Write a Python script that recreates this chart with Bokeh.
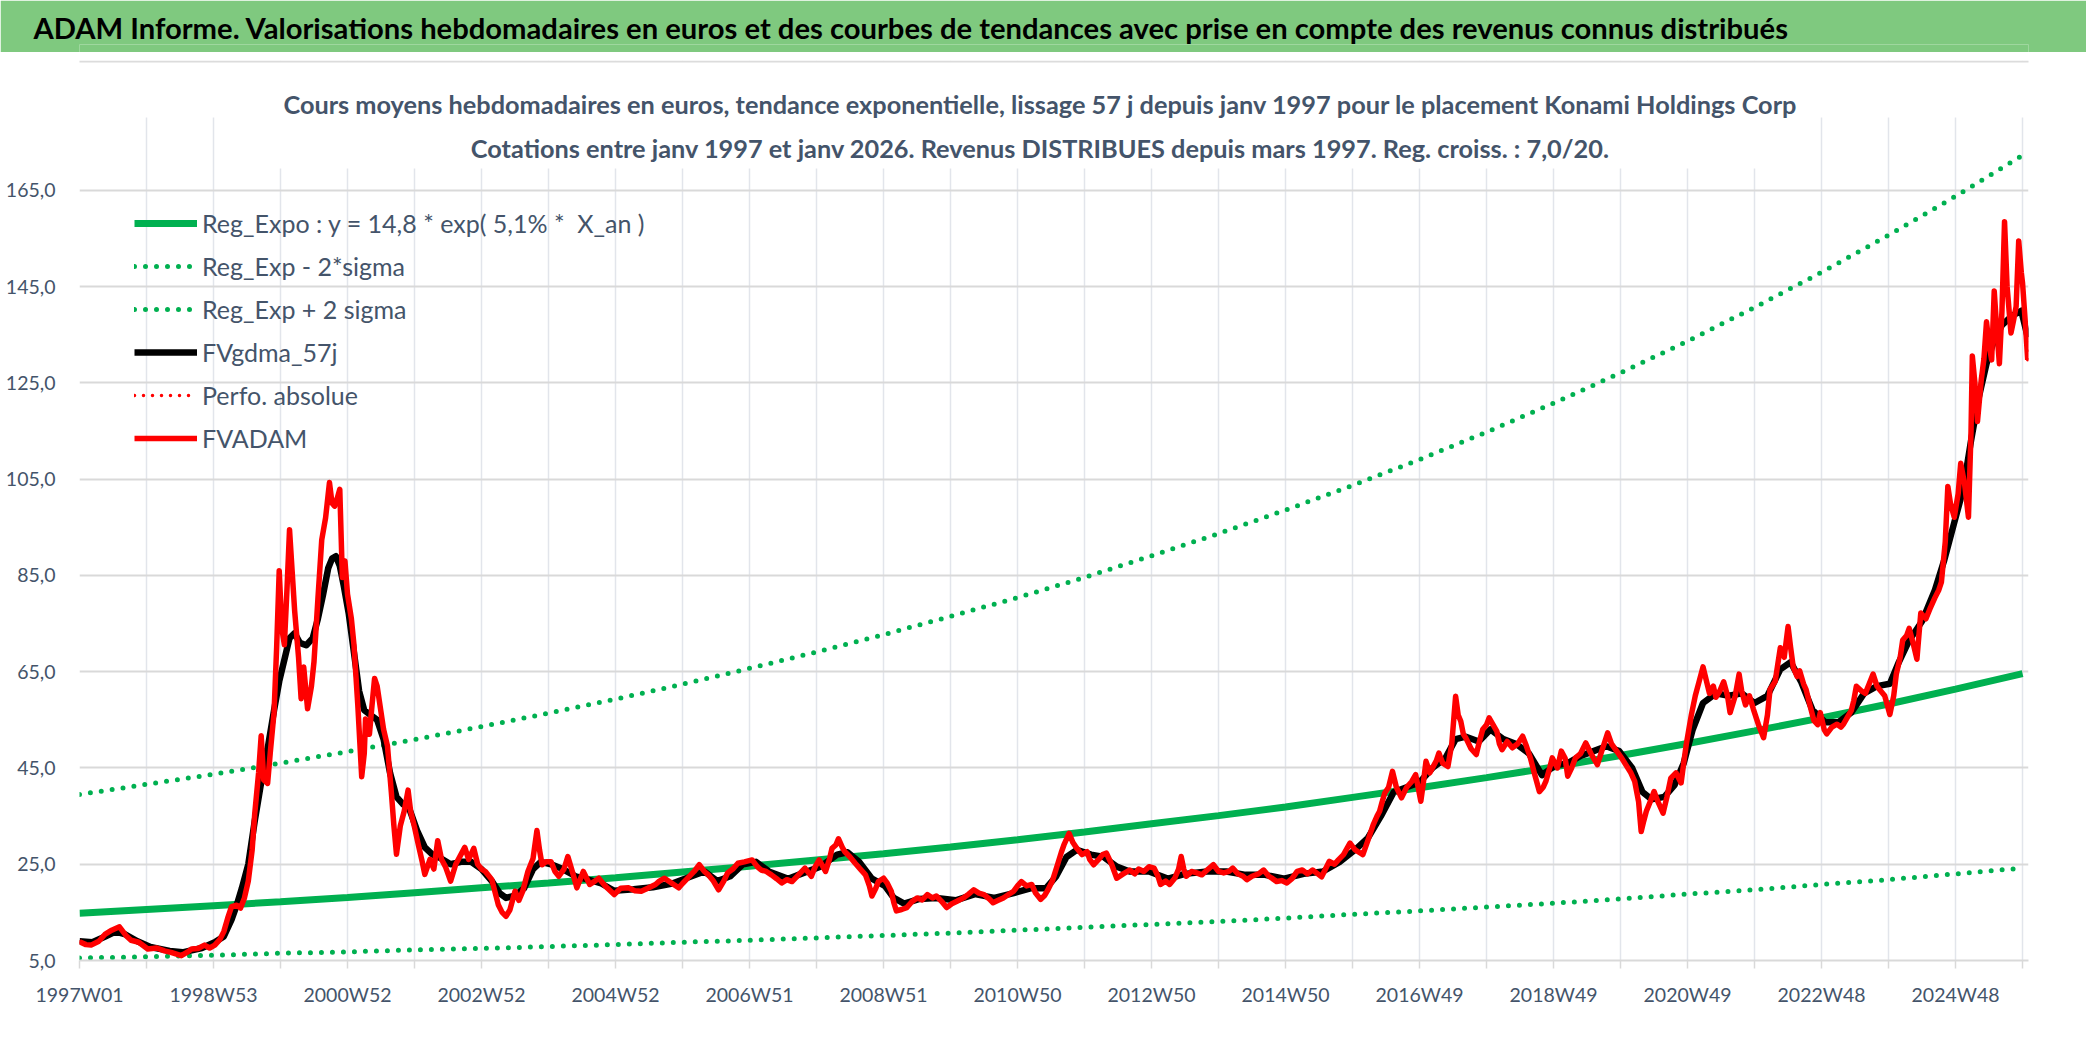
from bokeh.plotting import figure
from bokeh.models import (FixedTicker, Label, BoxAnnotation, Legend, LegendItem, Range1d)
from bokeh.layouts import column
from bokeh.embed import file_html
from bokeh.resources import INLINE

FONT = "Lato"
TXT = "#44546A"

TITLE = ("ADAM Informe. Valorisations hebdomadaires en euros et des courbes de tendances "
         "avec prise en compte des revenus connus distribués")
SUB1 = ("Cours moyens hebdomadaires en euros, tendance exponentielle, lissage 57 j depuis "
        "janv 1997 pour le placement Konami Holdings Corp")
SUB2 = "Cotations entre janv 1997 et janv 2026. Revenus DISTRIBUES depuis mars 1997. Reg. croiss. : 7,0/20."

# ---- category axis (weekly index) ----
x_labels = ["1997W01", "1998W53", "2000W52", "2002W52", "2004W52", "2006W51", "2008W51",
            "2010W50", "2012W50", "2014W50", "2016W49", "2018W49", "2020W49", "2022W48", "2024W48"]
x_label_wk = [0, 104, 208, 312, 416, 520, 624, 728, 832, 936, 1040, 1144, 1248, 1352, 1456]
tick_wk = [0, 52, 104, 156, 208, 260, 312, 364, 416, 468, 520, 572, 624, 676, 728, 780, 832,
           884, 936, 988, 1040, 1092, 1144, 1196, 1248, 1300, 1352, 1404, 1456, 1508]
n_weeks = 1513

y_ticks = [5, 25, 45, 65, 85, 105, 125, 145, 165]
y_labels = ["5,0", "25,0", "45,0", "65,0", "85,0", "105,0", "125,0", "145,0", "165,0"]

# ---- trend curves (yearly points) ----
trend_wk = [0, 52, 104, 156, 208, 260, 312, 364, 416, 468, 520, 572, 624, 676, 728, 780, 832,
            884, 936, 988, 1040, 1092, 1144, 1196, 1248, 1300, 1352, 1404, 1456, 1508]
reg_expo = [14.8, 15.6, 16.4, 17.2, 18.1, 19.1, 20.1, 21.1, 22.2, 23.4, 24.6, 25.9, 27.2, 28.6,
            30.1, 31.7, 33.4, 35.1, 36.9, 38.9, 40.9, 43.0, 45.2, 47.6, 50.1, 52.7, 55.4, 58.3,
            61.4, 64.6]
reg_minus = [5.5, 5.8, 6.1, 6.5, 6.8, 7.2, 7.5, 7.9, 8.3, 8.8, 9.2, 9.7, 10.2, 10.7, 11.3, 11.9,
             12.5, 13.1, 13.8, 14.6, 15.3, 16.1, 16.9, 17.8, 18.8, 19.7, 20.8, 21.8, 23.0, 24.2]
reg_plus = [39.5, 41.6, 43.7, 46.0, 48.4, 50.9, 53.6, 56.4, 59.3, 62.4, 65.7, 69.1, 72.7, 76.5,
            80.4, 84.6, 89.1, 93.7, 98.6, 103.7, 109.1, 114.8, 120.8, 127.1, 133.7, 140.7,
            148.0, 155.7, 163.8, 172.3]

# ---- FVADAM (weekly index, value) ----
red_wk = [0, 5, 9, 15, 20, 25, 31, 36, 40, 46, 53, 60, 66, 71, 79, 84, 87, 92, 97, 101, 105, 109,
          112, 115, 118, 122, 125, 128, 131, 134, 136, 139, 141, 143, 146, 148, 151, 153, 155, 157,
          159, 161, 163, 165, 167, 170, 172, 174, 177, 180, 182, 185, 188, 191, 194, 196, 198, 200,
          202, 204, 206, 208, 211, 213, 216, 219, 221, 222, 225, 227, 229, 231, 234, 236, 239, 242,
          244, 246, 249, 252, 255, 257, 260, 263, 266, 268, 272, 275, 278, 281, 284, 288, 292, 296,
          299, 302, 306, 309, 312, 315, 320, 325, 328, 331, 334, 338, 341, 344, 348, 352, 355, 357,
          359, 362, 366, 369, 372, 376, 379, 383, 386, 391, 396, 400, 403, 408, 415, 420, 426, 431,
          436, 441, 447, 450, 454, 460, 465, 468, 472, 477, 481, 485, 488, 492, 496, 500, 503, 507,
          511, 516, 522, 526, 529, 533, 537, 541, 545, 549, 553, 558, 563, 568, 571, 574, 577, 579,
          582, 584, 587, 589, 592, 594, 598, 602, 606, 610, 613, 615, 618, 620, 624, 627, 630, 632,
          634, 638, 642, 646, 650, 654, 658, 662, 665, 669, 673, 677, 681, 686, 690, 694, 698, 702,
          706, 709, 713, 717, 721, 725, 728, 731, 735, 739, 742, 746, 749, 751, 755, 759, 762, 764,
          768, 771, 774, 778, 782, 784, 787, 791, 794, 797, 801, 805, 810, 815, 819, 822, 826, 830,
          834, 837, 839, 843, 846, 850, 853, 855, 857, 859, 863, 867, 871, 876, 880, 884, 888, 892,
          895, 899, 903, 906, 910, 915, 919, 923, 926, 929, 933, 937, 941, 945, 949, 953, 957, 961,
          964, 967, 970, 974, 977, 981, 986, 990, 993, 996, 1000, 1004, 1007, 1009, 1011, 1013, 1016,
          1019, 1022, 1026, 1030, 1034, 1037, 1041, 1043, 1045, 1048, 1050, 1053, 1055, 1058, 1062,
          1065, 1068, 1070, 1072, 1074, 1076, 1080, 1084, 1086, 1089, 1092, 1094, 1097, 1100, 1102,
          1104, 1108, 1112, 1116, 1120, 1123, 1126, 1129, 1133, 1136, 1138, 1141, 1143, 1147, 1150,
          1153, 1155, 1158, 1161, 1165, 1169, 1173, 1178, 1182, 1186, 1189, 1193, 1197, 1200, 1204,
          1207, 1210, 1212, 1214, 1216, 1219, 1222, 1225, 1229, 1232, 1235, 1239, 1243, 1245, 1247,
          1251, 1254, 1257, 1260, 1265, 1268, 1270, 1273, 1276, 1279, 1281, 1285, 1288, 1290, 1293,
          1296, 1299, 1303, 1307, 1310, 1312, 1316, 1320, 1323, 1326, 1328, 1330, 1333, 1335, 1338,
          1340, 1343, 1346, 1349, 1351, 1354, 1356, 1360, 1364, 1367, 1369, 1372, 1375, 1377, 1379,
          1383, 1386, 1389, 1392, 1395, 1397, 1401, 1405, 1408, 1410, 1413, 1415, 1418, 1420, 1423,
          1426, 1429, 1433, 1436, 1440, 1443, 1445, 1448, 1450, 1452, 1455, 1458, 1460, 1463, 1466,
          1468, 1469, 1471, 1473, 1476, 1478, 1480, 1482, 1484, 1486, 1488, 1490, 1492, 1494, 1496,
          1499, 1501, 1503, 1505, 1507, 1508, 1510, 1512]
red_val = [8.9, 8.3, 8.2, 9.0, 10.5, 11.3, 12.0, 10.2, 9.2, 8.8, 7.4, 7.6, 7.0, 6.7, 6.0, 6.8, 7.4,
           7.5, 8.2, 7.6, 8.2, 9.4, 11.0, 13.8, 16.2, 16.5, 15.9, 18.0, 21.5, 28.0, 35.5, 44.0, 51.7,
           42.5, 41.8, 48.0, 56.6, 70.0, 86.0, 74.0, 70.6, 82.0, 94.5, 86.0, 77.6, 68.0, 59.4, 66.0,
           57.3, 62.0, 67.1, 80.0, 92.4, 97.0, 104.3, 100.0, 99.4, 101.0, 102.9, 84.6, 88.0, 81.1,
           76.0, 70.6, 58.0, 43.2, 48.0, 55.2, 52.0, 58.0, 63.6, 62.0, 56.6, 53.0, 49.6, 40.0, 33.0,
           27.1, 33.0, 36.0, 40.4, 36.0, 32.7, 29.0, 25.5, 22.9, 26.0, 24.0, 29.9, 26.0, 24.5, 21.5,
           25.0, 27.0, 28.5, 26.0, 28.3, 25.0, 24.0, 23.5, 21.8, 16.6, 15.0, 14.2, 15.5, 19.4, 17.5,
           19.4, 23.5, 26.2, 32.0, 28.0, 24.9, 25.5, 25.5, 23.5, 22.5, 24.0, 26.6, 23.0, 20.1, 23.5,
           20.8, 21.5, 22.1, 20.5, 18.7, 20.0, 20.1, 19.5, 19.4, 20.0, 20.8, 21.5, 22.1, 21.0, 20.1,
           21.0, 22.1, 23.5, 24.9, 23.5, 22.8, 21.5, 19.7, 21.5, 23.2, 24.0, 25.2, 25.5, 25.9, 24.5,
           23.8, 23.5, 22.8, 22.0, 21.1, 21.8, 21.4, 22.8, 24.2, 22.5, 24.5, 25.9, 24.5, 23.5, 26.0,
           28.3, 29.0, 30.3, 28.5, 27.6, 26.5, 25.2, 24.0, 22.8, 20.5, 18.4, 20.0, 21.4, 22.1, 21.0,
           19.4, 17.0, 15.3, 15.6, 16.0, 17.2, 18.0, 17.6, 18.7, 18.0, 18.4, 17.3, 16.0, 16.8, 17.3,
           18.0, 18.8, 19.7, 19.0, 18.7, 17.8, 17.0, 17.5, 18.0, 18.7, 19.4, 20.5, 21.4, 20.5, 20.8,
           19.0, 17.7, 18.5, 19.4, 21.5, 24.9, 27.5, 29.0, 31.4, 29.5, 28.3, 27.0, 27.6, 26.0, 24.9,
           26.0, 27.0, 27.3, 25.0, 22.1, 23.0, 23.8, 23.0, 24.0, 23.5, 24.5, 24.2, 22.5, 20.8, 21.5,
           20.8, 22.1, 24.0, 26.6, 24.0, 22.5, 23.5, 23.2, 22.8, 24.0, 24.9, 23.5, 23.2, 23.5, 24.2,
           23.0, 22.5, 21.8, 22.5, 23.0, 23.8, 22.5, 22.0, 21.4, 21.6, 21.1, 22.0, 23.5, 23.8, 23.0,
           23.8, 23.0, 22.4, 24.0, 25.6, 25.0, 25.9, 27.0, 29.4, 28.0, 27.5, 27.0, 30.0, 33.2, 35.0,
           36.0, 38.0, 39.8, 41.0, 44.3, 41.0, 38.8, 41.0, 42.2, 43.6, 38.1, 42.0, 46.4, 44.0, 45.0,
           46.5, 48.1, 46.0, 45.3, 50.0, 59.9, 56.0, 54.7, 52.0, 51.2, 49.0, 47.8, 50.0, 53.0, 54.0,
           55.4, 54.0, 52.6, 50.0, 48.8, 50.5, 49.2, 50.0, 51.6, 49.5, 47.1, 44.0, 40.1, 41.0, 42.2,
           45.0, 47.1, 45.0, 48.5, 47.0, 43.3, 45.0, 47.1, 48.0, 50.2, 48.0, 45.7, 49.0, 52.3, 50.0,
           48.5, 47.0, 45.7, 44.0, 42.2, 38.0, 31.8, 34.0, 36.0, 38.0, 40.1, 38.0, 35.6, 39.0, 42.9,
           44.0, 41.9, 46.0, 49.9, 56.1, 60.0, 63.0, 66.0, 60.5, 62.0, 59.7, 61.0, 62.9, 60.0, 56.5,
           60.0, 64.5, 61.0, 58.1, 60.0, 57.3, 54.0, 51.3, 56.0, 61.3, 63.0, 70.0, 68.0, 74.4, 70.0,
           66.0, 64.0, 65.2, 62.5, 61.3, 58.0, 54.9, 54.0, 56.5, 53.0, 52.1, 53.5, 54.1, 53.5, 54.1,
           55.5, 56.9, 59.0, 62.0, 61.0, 60.5, 62.5, 64.5, 62.0, 61.3, 60.0, 56.1, 60.0, 64.5, 68.0,
           71.6, 72.5, 74.0, 71.0, 67.6, 77.2, 76.0, 78.0, 80.4, 82.0, 83.6, 92.0, 103.5, 100.0,
           97.1, 102.0, 108.3, 104.0, 97.1, 115.0, 130.6, 125.0, 117.0, 125.8, 130.0, 137.7, 133.0,
           129.8, 144.1, 136.0, 129.0, 140.0, 158.5, 145.0, 135.4, 138.0, 140.9, 154.5, 148.0, 145.7,
           138.0, 129.8]

# ---- FVgdma_57j (smoothed) ----
blk_wk = [0, 10, 20, 28, 35, 45, 55, 70, 80, 95, 105, 112, 118, 122, 126, 131, 136, 141, 146, 151,
          155, 159, 163, 167, 171, 176, 181, 185, 189, 193, 196, 199, 202, 205, 209, 213, 217, 221,
          226, 231, 236, 241, 246, 251, 256, 262, 268, 274, 280, 288, 296, 304, 312, 320, 326, 331,
          338, 345, 352, 358, 366, 375, 385, 395, 405, 415, 430, 445, 460, 475, 485, 495, 505, 515,
          525, 535, 550, 560, 575, 588, 596, 605, 615, 625, 632, 640, 652, 665, 680, 695, 710, 725,
          738, 750, 758, 766, 774, 785, 795, 805, 815, 830, 845, 858, 875, 890, 905, 920, 935, 950,
          965, 978, 990, 1000, 1010, 1020, 1030, 1040, 1050, 1060, 1068, 1076, 1086, 1095, 1105,
          1115, 1125, 1135, 1145, 1155, 1165, 1175, 1185, 1195, 1205, 1213, 1220, 1230, 1238, 1245,
          1252, 1260, 1270, 1280, 1290, 1300, 1310, 1320, 1328, 1336, 1345, 1355, 1365, 1375, 1385,
          1395, 1405, 1412, 1420, 1430, 1440, 1447, 1455, 1462, 1468, 1474, 1480, 1486, 1492, 1500,
          1507, 1512]
blk_val = [9.0, 8.8, 10.0, 11.0, 10.5, 9.0, 7.8, 7.0, 6.7, 7.6, 8.8, 10.0, 13.5, 16.5, 20.0, 25.0,
           34.0, 42.0, 49.0, 57.0, 63.0, 67.5, 72.0, 73.0, 71.0, 70.5, 72.0, 76.0, 81.0, 86.5, 88.5,
           89.0, 87.0, 83.0, 77.0, 69.0, 61.0, 57.0, 56.0, 55.0, 51.0, 44.0, 39.0, 37.5, 36.5, 32.0,
           28.5, 27.0, 26.3, 25.0, 25.5, 25.5, 24.0, 21.5, 19.0, 18.0, 18.5, 20.0, 24.0, 25.5, 25.0,
           24.0, 22.5, 21.8, 21.0, 19.5, 19.8, 20.2, 21.0, 22.5, 23.5, 21.5, 22.5, 25.0, 25.5, 23.5,
           22.0, 23.0, 24.5, 27.0, 27.5, 25.5, 22.0, 20.5, 18.0, 16.8, 17.8, 18.0, 17.5, 18.8, 18.0,
           19.0, 20.0, 20.0, 22.5, 26.5, 28.0, 27.0, 26.5, 24.5, 23.5, 23.5, 22.0, 23.0, 23.5, 23.5,
           22.8, 22.8, 22.0, 23.0, 23.5, 25.5, 28.0, 30.5, 35.0, 40.0, 41.0, 42.0, 45.0, 47.0, 51.0,
           51.5, 50.5, 53.0, 51.0, 50.0, 48.0, 43.5, 45.5, 46.0, 47.5, 48.5, 49.5, 48.5, 45.0, 40.0,
           38.5, 39.0, 41.5, 46.0, 53.0, 58.5, 60.5, 60.0, 60.5, 58.5, 60.0, 65.5, 67.0, 63.0, 57.0,
           54.5, 54.5, 56.5, 60.5, 62.0, 62.5, 67.0, 71.5, 75.5, 82.0, 88.0, 96.0, 103.0, 113.0,
           122.0, 129.0, 134.0, 137.0, 139.0, 140.0, 134.5]

W = 2086
LEFT, RIGHT = 79, 58   # frame borders; shared by both figures (Bokeh aligns frames in a column)

# ================= title bar =================
top = figure(width=W, height=52, x_range=Range1d(0, 1), y_range=Range1d(0, 1),
             title=TITLE, toolbar_location=None, output_backend="svg",
             x_axis_type=None, y_axis_type=None,
             min_border_left=LEFT, min_border_right=RIGHT, min_border_top=44, min_border_bottom=0,
             background_fill_color="#7FC97F", border_fill_color="#7FC97F",
             outline_line_color=None)
top.title.align = "left"
top.title.offset = 33 - LEFT
top.title.standoff = 0
top.title.text_font = FONT
top.title.text_font_size = "29.2px"
top.title.text_font_style = "bold"
top.title.text_color = "black"

# ================= main chart =================
# frame spans y 60..960 and x 79..2028 of the page
p = figure(width=W, height=985, x_range=Range1d(0, n_weeks - 0.4), y_range=Range1d(5, 192.0),
           toolbar_location=None, output_backend="svg",
           min_border_left=LEFT, min_border_right=RIGHT, min_border_top=8, min_border_bottom=77,
           background_fill_color="white", border_fill_color="white")
p.outline_line_color = None

p.xaxis.ticker = FixedTicker(ticks=tick_wk)
overr = {t: "" for t in tick_wk}
for t, lab in zip(x_label_wk, x_labels):
    overr[t] = lab
p.xaxis.major_label_overrides = overr
p.xaxis.axis_line_color = "#D9D9D9"
p.xaxis.axis_line_width = 2
p.xaxis.major_tick_line_color = "#D9D9D9"
p.xaxis.major_tick_line_width = 1.5
p.xaxis.major_tick_out = 8
p.xaxis.major_tick_in = 0
p.xaxis.minor_tick_line_color = None
p.xaxis.major_label_standoff = 14
p.xaxis.major_label_text_font = FONT
p.xaxis.major_label_text_font_size = "19.5px"
p.xaxis.major_label_text_color = TXT

p.yaxis.ticker = FixedTicker(ticks=y_ticks)
p.yaxis.major_label_overrides = {t: lab for t, lab in zip(y_ticks, y_labels)}
p.yaxis.axis_line_color = None
p.yaxis.major_tick_line_color = None
p.yaxis.minor_tick_line_color = None
p.yaxis.major_label_standoff = 18
p.yaxis.major_label_text_font = FONT
p.yaxis.major_label_text_font_size = "19.5px"
p.yaxis.major_label_text_color = TXT

p.ygrid.grid_line_color = "#D9D9D9"
p.ygrid.grid_line_width = 2
p.xgrid.grid_line_color = "#E2E5EB"
p.xgrid.grid_line_width = 1.5

FH = 900  # frame height in px


def screen_box(left, right, bottom, top_, color):
    return BoxAnnotation(left=left, right=right, bottom=bottom, top=top_,
                         left_units="screen", right_units="screen",
                         bottom_units="screen", top_units="screen",
                         fill_color=color, fill_alpha=1.0, line_color=None, level="underlay")


# white area above the plot region (grid starts at page y 117)
p.add_layout(screen_box(-2, 1952, FH - 57, FH + 2, "white"))
# white box behind the subtitle (hides the grid there)
p.add_layout(screen_box(161, 1711, FH - 108, FH - 56, "white"))
# thin chart border line at the top of the chart area
p.add_layout(screen_box(-2, 1952, FH - 2, FH, "#DCDCDC"))

r_reg = p.line(trend_wk, reg_expo, line_color="#00B050", line_width=7)
r_minus = p.line(trend_wk, reg_minus, line_color="#00B050", line_width=5,
                 line_dash="0 11", line_cap="round")
r_plus = p.line(trend_wk, reg_plus, line_color="#00B050", line_width=5,
                line_dash="0 11", line_cap="round")
r_blk = p.line(blk_wk, blk_val, line_color="black", line_width=6.5, line_join="round")
r_perf = p.line(red_wk, red_val, line_color="#FF0000", line_width=3.5,
                line_dash="0 9", line_cap="round")
r_red = p.line(red_wk, red_val, line_color="#FF0000", line_width=5.5, line_join="round")

legend = Legend(items=[
    LegendItem(label="Reg_Expo : y = 14,8 * exp( 5,1% *  X_an )", renderers=[r_reg]),
    LegendItem(label="Reg_Exp - 2*sigma", renderers=[r_minus]),
    LegendItem(label="Reg_Exp + 2 sigma", renderers=[r_plus]),
    LegendItem(label="FVgdma_57j", renderers=[r_blk]),
    LegendItem(label="Perfo. absolue", renderers=[r_perf]),
    LegendItem(label="FVADAM", renderers=[r_red]),
], location=(55, 505))
legend.background_fill_alpha = 0
legend.border_line_color = None
legend.padding = 0
legend.margin = 0
legend.spacing = 9
legend.glyph_width = 63
legend.glyph_height = 34
legend.label_height = 34
legend.label_standoff = 5
legend.label_text_font = FONT
legend.label_text_font_size = "25px"
legend.label_text_color = TXT
p.add_layout(legend)

p.add_layout(Label(x=961, y=FH - 43, x_units="screen", y_units="screen", text=SUB1,
                   text_font=FONT, text_font_size="25.3px", text_font_style="bold",
                   text_color=TXT, text_align="center", text_baseline="middle"))
p.add_layout(Label(x=961, y=FH - 87, x_units="screen", y_units="screen", text=SUB2,
                   text_font=FONT, text_font_size="25.3px", text_font_style="bold",
                   text_color=TXT, text_align="center", text_baseline="middle"))

layout = column(top, p, spacing=0)
open("out.html", "w").write(file_html(layout, INLINE))
